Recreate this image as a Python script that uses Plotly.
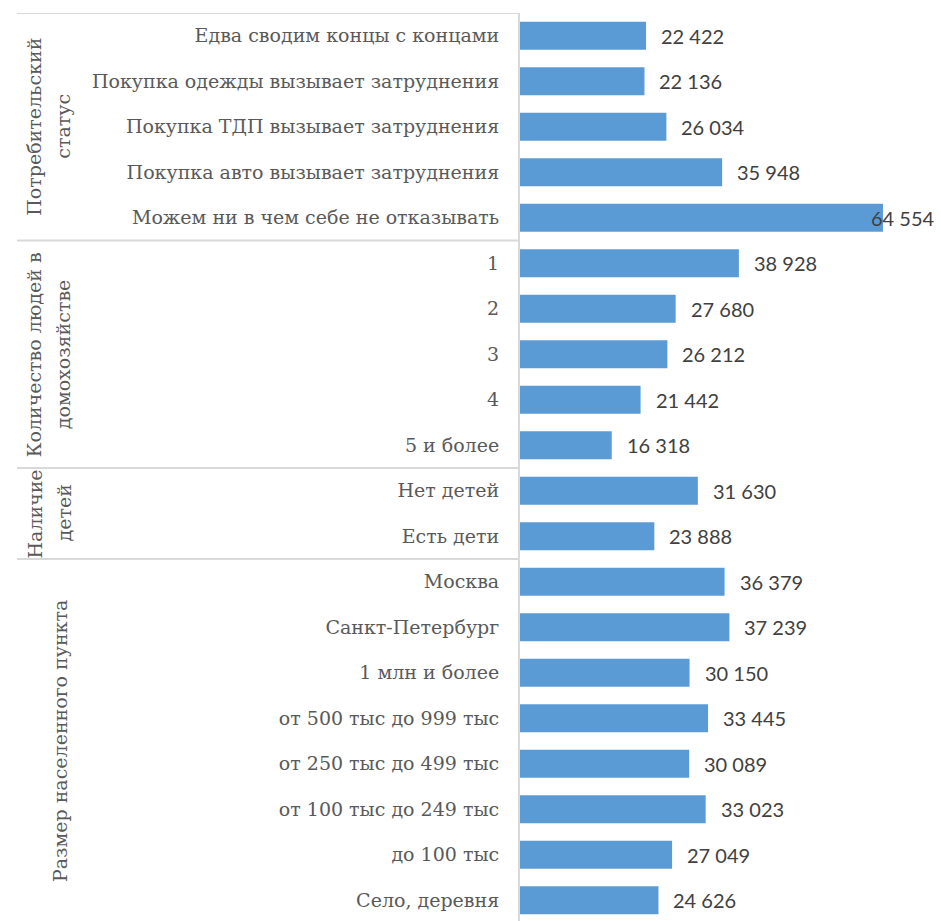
import plotly.graph_objects as go

categories = [
    "Едва сводим концы с концами",
    "Покупка одежды вызывает затруднения",
    "Покупка ТДП вызывает затруднения",
    "Покупка авто вызывает затруднения",
    "Можем ни в чем себе не отказывать",
    "1", "2", "3", "4", "5 и более",
    "Нет детей", "Есть дети",
    "Москва", "Санкт-Петербург", "1 млн и более",
    "от 500 тыс до 999 тыс", "от 250 тыс до 499 тыс",
    "от 100 тыс до 249 тыс", "до 100 тыс", "Село, деревня",
]
values = [22422, 22136, 26034, 35948, 64554,
          38928, 27680, 26212, 21442, 16318,
          31630, 23888,
          36379, 37239, 30150, 33445, 30089, 33023, 27049, 24626]

groups = [
    (["Потребительский", "статус"], 0, 4),
    (["Количество людей в", "домохозяйстве"], 5, 9),
    (["Наличие", "детей"], 10, 11),
    (["Размер населенного пункта"], 12, 19),
]

W, H = 941, 921
ML, MT = 520, 13
PW = W - ML
XMAX = 74870

def px2paper(px):
    return (px - ML) / PW

def fmt(v):
    return f"{v:,}".replace(",", " ")

fig = go.Figure(go.Bar(
    y=categories, x=values, orientation="h",
    marker=dict(color="#5B9BD5", line=dict(width=0)),
    hoverinfo="skip",
))

annotations = []
for i, v in enumerate(values):
    if v / XMAX > 0.8:
        annotations.append(dict(x=px2paper(937), xref="paper", y=i, yref="y",
                                text=fmt(v), showarrow=False, xanchor="right",
                                font=dict(family="Lato", size=20, color="#404040")))
    else:
        annotations.append(dict(x=v, xref="x", y=i, yref="y", text=fmt(v),
                                showarrow=False, xanchor="left", xshift=13,
                                font=dict(family="Lato", size=20, color="#404040")))

shapes = []
seps = [-0.5] + [g[2] + 0.5 for g in groups[:-1]]
for s in seps:
    shapes.append(dict(type="line", xref="paper", yref="y",
                       x0=px2paper(17), x1=0, y0=s, y1=s,
                       line=dict(color="#d9d9d9", width=2)))

for lines, a, b in groups:
    yc = (a + b) / 2
    if len(lines) == 2:
        xs = [34, 63]
    else:
        xs = [60]
    for t, xp in zip(lines, xs):
        annotations.append(dict(x=px2paper(xp), xref="paper", y=yc, yref="y",
                                text=t, showarrow=False, textangle=-90,
                                xanchor="center", yanchor="middle",
                                font=dict(family="DejaVu Serif", size=19, color="#595959")))

fig.update_layout(
    width=W, height=H,
    margin=dict(l=ML, r=0, t=MT, b=0, pad=0),
    paper_bgcolor="white", plot_bgcolor="white",
    bargap=0.385,
    showlegend=False,
    xaxis=dict(range=[0, XMAX], visible=False, fixedrange=True),
    yaxis=dict(type="category", range=[19.456, -0.5],
               showline=True, linecolor="#d9d9d9", linewidth=2,
               showgrid=False, zeroline=False, ticks="",
               ticklabelstandoff=15,
               tickfont=dict(family="DejaVu Serif", size=19, color="#595959")),
    shapes=shapes,
    annotations=annotations,
)

fig.write_html("out.html")
